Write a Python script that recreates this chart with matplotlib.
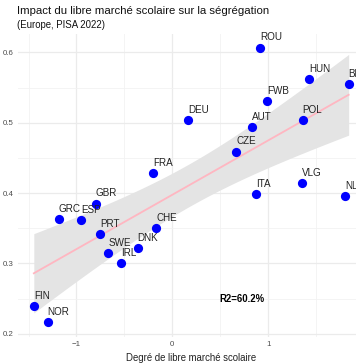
import numpy as np
import matplotlib
matplotlib.use("Agg")
import matplotlib.pyplot as plt

plt.rcParams['font.family'] = ['Liberation Sans', 'DejaVu Sans']

countries = ["ROU", "HUN", "BEL", "FWB", "DEU", "AUT", "POL", "CZE", "ITA", "VLG", "NLD",
             "FRA", "GBR", "GRC", "ESP", "PRT", "CHE", "SWE", "DNK", "IRL", "FIN", "NOR"]
libre_marche = [0.917, 1.43, 1.84, 0.99, 0.167, 0.833, 1.36, 0.667, 0.875, 1.357, 1.80,
                -0.201, -0.799, -1.184, -0.948, -0.75, -0.17, -0.67, -0.361, -0.531, -1.445, -1.30]
segregation = [0.607, 0.562, 0.555, 0.531, 0.504, 0.494, 0.504, 0.459, 0.398, 0.414, 0.396,
               0.429, 0.385, 0.363, 0.362, 0.342, 0.350, 0.315, 0.322, 0.300, 0.239, 0.216]
r2_label = "R2=60.2%"

x = np.array(libre_marche)
y = np.array(segregation)

# linear fit + 95% confidence band
n = len(x)
slope, intercept = np.polyfit(x, y, 1)
resid = y - (slope * x + intercept)
s = np.sqrt(np.sum(resid ** 2) / (n - 2))
xs = np.linspace(x.min(), x.max(), 100)
ys = slope * xs + intercept
se = s * np.sqrt(1 / n + (xs - x.mean()) ** 2 / np.sum((x - x.mean()) ** 2))
t = 2.086

fig = plt.figure(figsize=(3.56, 3.64), dpi=100)
ax = fig.add_axes([18 / 356, 27.5 / 364, 346 / 356, 303 / 364])

ax.fill_between(xs, ys - t * se, ys + t * se, color="#e4e4e4", lw=0, zorder=1)
ax.plot(xs, ys, color="#ffb6c1", lw=1.3, zorder=2)
ax.scatter(x, y, s=44, color="#0000ff", zorder=3, linewidths=0)

for c, xi, yi in zip(countries, x, y):
    ax.annotate(c, (xi, yi), xytext=(0, 7.3), textcoords="offset points",
                ha="left", va="center", fontsize=7.1, color="#222222", zorder=4)

ax.text(0.726, 0.249, r2_label, fontsize=6.9, fontweight="bold", ha="center", va="center")

ax.set_xlim(-1.61, 2.0)
ax.set_ylim(0.196, 0.627)
ax.set_xticks([-1, 0, 1])
ax.set_yticks([0.2, 0.3, 0.4, 0.5, 0.6])
ax.set_xticks([-1.5, -0.5, 0.5, 1.5], minor=True)
ax.set_yticks([0.25, 0.35, 0.45, 0.55], minor=True)
ax.set_yticklabels(["0.2", "0.3", "0.4", "0.5", "0.6"])
ax.grid(which="major", color="#ebebeb", lw=0.9)
ax.grid(which="minor", color="#f2f2f2", lw=0.6)
ax.set_axisbelow(True)
for sp in ax.spines.values():
    sp.set_visible(False)
ax.tick_params(which="both", length=0, labelsize=5.7, colors="#4d4d4d", pad=3)

ax.set_xlabel("Degré de libre marché scolaire", fontsize=6.9, color="#222222", labelpad=4)

fig.text(17 / 356, 1 - 10.5 / 364, "Impact du libre marché scolaire sur la ségrégation",
         fontsize=8.2, ha="left", va="center", color="#111111")
fig.text(17 / 356, 1 - 25 / 364, "(Europe, PISA 2022)", fontsize=6.9, ha="left", va="center",
         color="#111111")

fig.savefig("out.png", dpi=100)
